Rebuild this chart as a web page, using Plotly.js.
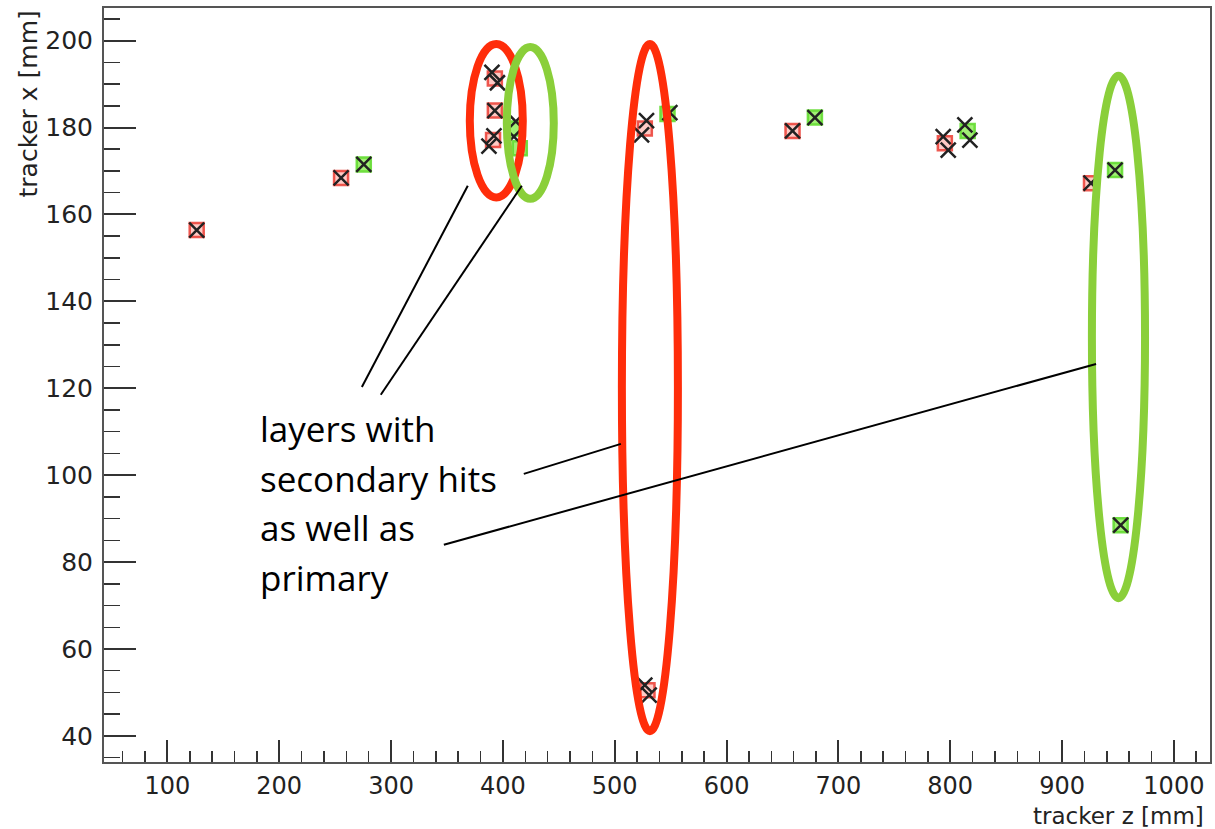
<!DOCTYPE html>
<html>
<head>
<meta charset="utf-8">
<script src="https://cdn.plot.ly/plotly-3.0.1.min.js"></script>
<style>html,body{margin:0;padding:0;background:#fff;}#plot{width:1215px;height:829px;}</style>
</head>
<body>
<div id="plot"></div>
<script>
// reconstructed hits from primary-layer candidates (red) and secondary (green)
const redZ   = [126.2, 255.3, 392.8, 392.8, 391.2, 526.9, 659.0, 795.2, 925.9, 529.3];
const redX   = [156.4, 168.4, 191.3, 183.9, 177.1, 179.8, 179.2, 176.4, 167.2, 50.5];
const greenZ = [275.6, 410.6, 415.1, 547.2, 679.0, 815.6, 947.4, 952.4];
const greenX = [171.5, 179.8, 175.2, 183.1, 182.3, 179.2, 170.2, 88.5];
// true hits (black crosses)
const trueZ = [126.2, 255.3, 275.6, 392.8, 659.0, 679.0, 925.9, 947.4, 952.4, 549.3,
               390.2, 395.1, 392.0, 387.5, 411.5, 409.8, 528.4, 524.0,
               793.7, 798.2, 813.1, 817.6, 526.9, 530.8];
const trueX = [156.4, 168.4, 171.5, 183.9, 179.2, 182.3, 167.2, 170.2, 88.5, 183.4,
               192.7, 190.3, 178.1, 175.7, 181.4, 177.9, 181.6, 178.3,
               177.9, 174.8, 180.6, 177.1, 51.7, 49.4];
// highlighted layers: [z0, z1, x0, x1]
const redEllipses   = [[370.4, 417.8, 163.9, 199.2], [506.4, 556.5, 41.1, 199.2]];
const greenEllipses = [[403.5, 445.5, 163.6, 198.5], [926.7, 974.2, 71.7, 191.9]];
// pointer lines: [z0, x0, z1, x1]
const pointerLines = [[273.9, 120.3, 368.6, 166.6], [290.8, 118.5, 416.9, 166.6],
                      [418.7, 100.3, 505.5, 107.2], [347.2, 84.0, 930.4, 125.6]];
const noteLines = ["layers with", "secondary hits", "as well as", "primary"];
const xTitle = "tracker z [mm]";
const yTitle = "tracker x [mm]";

const traces = [
  {x: redZ, y: redX, type: 'scatter', mode: 'markers', hoverinfo: 'none',
   marker: {symbol: 'square', size: 14, color: 'rgba(255,150,140,0.5)',
            line: {color: 'rgba(235,60,50,0.85)', width: 2.5}}},
  {x: greenZ, y: greenX, type: 'scatter', mode: 'markers', hoverinfo: 'none',
   marker: {symbol: 'square', size: 14, color: 'rgba(130,235,70,0.75)',
            line: {color: 'rgba(100,220,50,0.9)', width: 2.5}}},
  {x: trueZ, y: trueX, type: 'scatter', mode: 'markers', hoverinfo: 'none',
   marker: {symbol: 'x-thin-open', size: 15, color: '#222',
            line: {color: '#222', width: 2.5}}}
];

const shapes = [];
redEllipses.forEach(e => shapes.push({type: 'circle', xref: 'x', yref: 'y',
  x0: e[0], x1: e[1], y0: e[2], y1: e[3], line: {color: '#ff2d0a', width: 8}}));
greenEllipses.forEach(e => shapes.push({type: 'circle', xref: 'x', yref: 'y',
  x0: e[0], x1: e[1], y0: e[2], y1: e[3], line: {color: '#8acf3a', width: 8}}));
pointerLines.forEach(l => shapes.push({type: 'line', xref: 'x', yref: 'y',
  x0: l[0], y0: l[1], x1: l[2], y1: l[3], line: {color: '#000', width: 2}}));

const annotations = noteLines.map((t, i) => ({
  text: t, xref: 'x', yref: 'y', x: 180.8, y: 110.85 - i * 11.5,
  xanchor: 'left', yanchor: 'middle', showarrow: false, align: 'left',
  font: {family: 'Open Sans, sans-serif', size: 35, color: '#000'}
}));
annotations.push({text: xTitle, xref: 'paper', yref: 'paper', x: 0.9955, y: -0.0902,
  xanchor: 'right', yanchor: 'bottom', showarrow: false, borderpad: 0,
  font: {family: 'DejaVu Sans, sans-serif', size: 23, color: '#222'}});
annotations.push({text: yTitle, xref: 'paper', yref: 'paper', x: -0.0687, y: 0.9987,
  xanchor: 'center', yanchor: 'top', textangle: -90, showarrow: false,
  font: {family: 'DejaVu Sans, sans-serif', size: 25, color: '#222'}});

const tickFont = {family: 'DejaVu Sans, sans-serif', size: 24, color: '#222'};
const layout = {
  width: 1215, height: 829,
  margin: {l: 104, r: 5, t: 8, b: 67},
  paper_bgcolor: '#fff', plot_bgcolor: '#fff',
  showlegend: false,
  xaxis: {range: [43.3, 1032.3], tick0: 0, dtick: 100, ticks: 'inside', ticklen: 22,
          tickwidth: 2, tickcolor: '#333', showline: true, linecolor: '#555', linewidth: 2,
          mirror: true, showgrid: false, zeroline: false, tickfont: tickFont,
          ticklabelstandoff: 1,
          minor: {tick0: 0, dtick: 20, ticks: 'inside', ticklen: 11, tickwidth: 1.5, tickcolor: '#333', showgrid: false}},
  yaxis: {range: [34, 207.5], tick0: 0, dtick: 20, ticks: 'inside', ticklen: 32,
          tickwidth: 2, tickcolor: '#333', showline: true, linecolor: '#555', linewidth: 2,
          mirror: true, showgrid: false, zeroline: false,
          tickfont: {family: 'DejaVu Sans, sans-serif', size: 25, color: '#222'},
          ticklabelstandoff: 4,
          minor: {tick0: 0, dtick: 5, ticks: 'inside', ticklen: 16, tickwidth: 1.5, tickcolor: '#333', showgrid: false}},
  shapes: shapes,
  annotations: annotations
};
Plotly.newPlot('plot', traces, layout, {displayModeBar: false, staticPlot: true});
</script>
</body>
</html>
